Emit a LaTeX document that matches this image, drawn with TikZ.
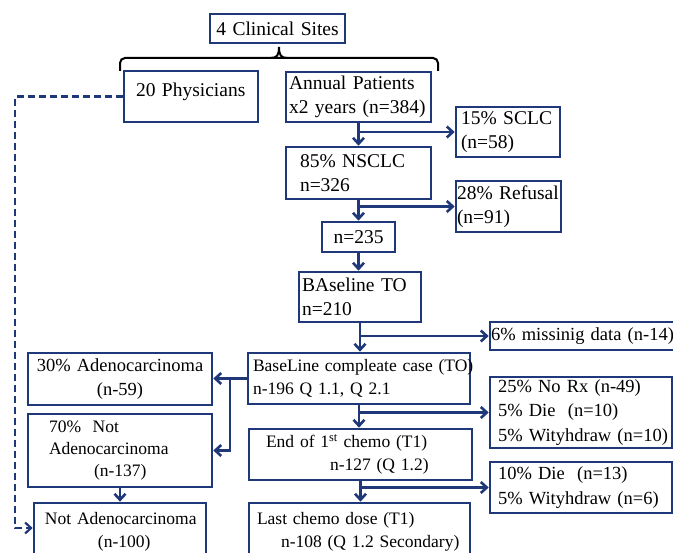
\documentclass[tikz,border=0pt]{standalone}
\usepackage{fontspec}
\setmainfont{Liberation Serif}
\usetikzlibrary{arrows.meta}
\definecolor{siteBlue}{RGB}{31, 56, 122}

\begin{document}
\begin{tikzpicture}[x=1pt, y=-1pt]
    \tikzstyle{box} = [draw=siteBlue, line width=2.6pt, inner xsep=3pt, inner ysep=0pt, align=left, font=\fontsize{19.5}{24.5}\selectfont]
    \tikzstyle{mid} = [font=\fontsize{18.5}{24.5}\selectfont]
    \tikzstyle{small} = [font=\fontsize{17.5}{23}\selectfont]
    \tikzstyle{arrow} = [-{Straight Barb[length=6pt, width=11pt]}, line width=2.6pt, siteBlue]
    \path[use as bounding box, fill=white] (0,0) rectangle (673,553);

    % Sites and brace
    \node[box, text width=129pt, minimum height=29pt, align=center] (sites) at (277.5,28.5) {4 Clinical Sites};
    \coordinate (braceL) at (120,71);
    \coordinate (braceR) at (438,71);
    \coordinate (braceTip) at (279,47);
    \draw[line width=2pt, rounded corners=5pt] (braceL) -- (120,58) -- (438,58) -- (braceR);
    \draw[line width=2pt] (271,58) .. controls (277,58) and (279,55) .. (braceTip) .. controls (279,55) and (281,58) .. (287,58);

    % Main column
    \node[box, text width=128pt, minimum height=51pt, text depth=13pt] (phys) at (191,96.5) {\hspace*{9pt}20 Physicians};
    \node[box, text width=139pt, minimum height=50pt] (annual) at (358.5,97) {\mbox{Annual Patients}\\\mbox{x2 years (n=384)}};
    \node[box, text width=98pt, minimum height=50pt] (sclc) at (508,132) {\hspace*{2pt}15\% SCLC\\\hspace*{2pt}(n=58)};
    \node[box, text width=139pt, minimum height=52pt] (nsclc) at (358.5,173) {\hspace*{11pt}85\% NSCLC\\\hspace*{11pt}n=326};
    \node[box, inner xsep=1pt, text width=103pt, minimum height=51pt] (refusal) at (508.5,206.5) {\mbox{28\% Refusal}\\(n=91)};
    \node[box, text width=67pt, minimum height=30pt, align=center] (n235) at (358.5,237) {n=235};
    \node[box, text width=116pt, minimum height=50pt] (base) at (360,297) {BAseline TO\\n=210};
    \node[box, mid, inner xsep=1pt, text width=184pt, minimum height=28pt] (missing) at (583,336) {\mbox{6\% missinig data (n-14)}};
    \node[box, small, text width=216pt, minimum height=51pt] (comp) at (359,378.5) {\hspace*{2pt}\mbox{BaseLine compleate case (TO)}\\\hspace*{2pt}n-196 Q 1.1, Q 2.1};
    \node[box, mid, text width=176pt, minimum height=71pt] (norx) at (581,412.5) {\hspace*{5pt}25\% No Rx (n-49)\\\hspace*{5pt}5\% Die\ \ (n=10)\\\hspace*{5pt}\mbox{5\% Wityhdraw (n=10)}};
    \node[box, small, text width=217pt, minimum height=51pt] (end1) at (360.5,454.5) {\hspace*{14pt}End of 1\textsuperscript{st} chemo (T1)\\\hspace*{78pt}n-127 (Q 1.2)};
    \node[box, mid, text width=176pt, minimum height=51pt] (die10) at (581,487.5) {\hspace*{5pt}10\% Die\ \ (n=13)\\\hspace*{5pt}\mbox{5\% Wityhdraw (n=6)}};
    \node[box, small, text width=215pt, minimum height=57pt] (last) at (359.5,531.5) {\hspace*{5pt}Last chemo dose (T1)\\\hspace*{29pt}n-108 (Q 1.2 Secondary)};

    % Left column
    \node[box, mid, text width=178pt, minimum height=52pt, align=center] (adeno30) at (120,379) {30\% Adenocarcinoma\\(n-59)};
    \node[box, small, text width=178pt, minimum height=73pt, font=\fontsize{17.5}{22}\selectfont] (adeno70) at (120,450.5) {\hspace*{18pt}70\%\ \ Not\\\hspace*{18pt}Adenocarcinoma\\\hspace*{63pt}(n-137)};
    \node[box, small, text width=166pt, minimum height=57pt] (notadeno) at (120,531.5) {\hspace*{8pt}Not Adenocarcinoma\\\hspace*{61pt}(n-100)};

    % Arrows down the middle
    \draw[arrow] (annual.south) -- (annual.south |- nsclc.north);
    \draw[arrow] (annual.south |- sclc.west) -- (sclc.west);
    \draw[arrow] (nsclc.south) -- (nsclc.south |- n235.north);
    \draw[arrow] (nsclc.south |- refusal.west) -- (refusal.west);
    \draw[arrow] (n235.south) -- (n235.south |- base.north);
    \draw[arrow] (base.south) -- (base.south |- comp.north);
    \draw[arrow] (base.south |- missing.west) -- (missing.west);
    \draw[arrow] (comp.south) -- (comp.south |- end1.north);
    \draw[arrow] (comp.south |- norx.west) -- (norx.west);
    \draw[arrow] (end1.south) -- (end1.south |- last.north);
    \draw[arrow] (end1.south |- die10.west) -- (die10.west);

    % Arrows to the left
    \coordinate (split) at (230,378.5);
    \draw[arrow] (comp.west) -- (comp.west -| adeno30.east);
    \draw[arrow] (split) |- (adeno70.east);
    \draw[arrow] (adeno70.south) -- (adeno70.south |- notadeno.north);
    \coordinate (dashTop) at (15,96.5);
    \coordinate (dashBot) at (15,528);
    \draw[arrow, line width=2.2pt, dash pattern=on 7pt off 4pt] (phys.west) -- (dashTop) -- (dashBot) -- (dashBot -| notadeno.west);
\end{tikzpicture}
\end{document}
